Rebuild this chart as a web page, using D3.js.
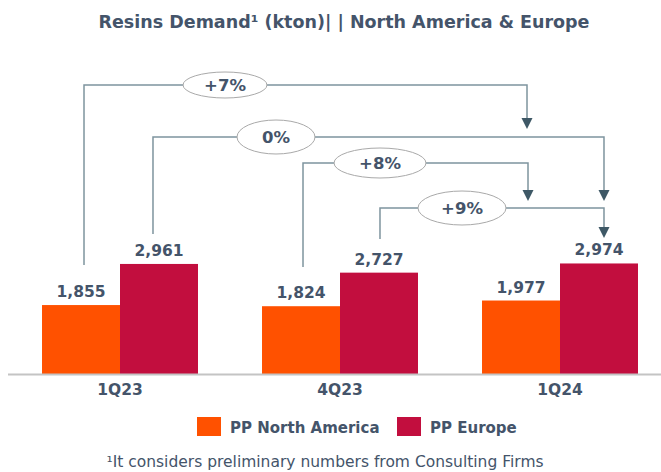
<!DOCTYPE html>
<html>
<head>
<meta charset="utf-8">
<script src="https://cdn.jsdelivr.net/npm/d3@7"></script>
<style>
  body { margin: 0; background: #fff; }
  svg { display: block; font-family: "DejaVu Sans", Verdana, sans-serif; }
</style>
</head>
<body>
<svg width="661" height="472"></svg>
<script>
// data
let quarters = ["1Q23", "4Q23", "1Q24"];
let seriesNames = ["PP North America", "PP Europe"];
let naValues = [1855, 1824, 1977];
let euValues = [2961, 2727, 2974];
let changeLabels = ["+7%", "0%", "+8%", "+9%"];
let changeFrom = [["1Q23", 0], ["1Q23", 1], ["4Q23", 0], ["4Q23", 1]];
let changeTo = [["1Q24", 0], ["1Q24", 1], ["1Q24", 0], ["1Q24", 1]];

// layout of the change annotations (pixels)
let connectorLayout = [
  { level: 85,  fromDx: 3,  fromEnd: 265, toDx: 6, tipY: 129, cx: 225, rx: 42, ry: 13 },
  { level: 137, fromDx: -6, fromEnd: 234, toDx: 5, tipY: 201, cx: 276, rx: 39, ry: 17 },
  { level: 163, fromDx: 2,  fromEnd: 267, toDx: 7, tipY: 201, cx: 380, rx: 46, ry: 15 },
  { level: 208, fromDx: 1,  fromEnd: 239, toDx: 5, tipY: 238, cx: 462, rx: 44, ry: 17 }
];

let colors = ["#ff5100", "#c20e3e"];
let textColor = "#44546a";
let lineColor = "#7e949e";

let svg = d3.select("svg");

let x = d3.scaleBand()
  .domain(quarters)
  .range([10, 670])
  .paddingInner(0.291)
  .paddingOuter(0.1455);

let x1 = d3.scaleBand()
  .domain([0, 1])
  .range([0, x.bandwidth()]);

let y = d3.scaleLinear()
  .domain([0, 3000])
  .range([374, 262.5]);

let values = [naValues, euValues];
let barData = [];
quarters.forEach(function (q, i) {
  values.forEach(function (vals, s) {
    barData.push({ q: q, s: s, v: vals[i] });
  });
});

function barCenter(q, s) {
  return x(q) + x1(s) + x1.bandwidth() / 2;
}

// title
let title = svg.append("text")
  .attr("x", 344)
  .attr("y", 28)
  .attr("text-anchor", "middle")
  .attr("fill", textColor)
  .attr("font-weight", "bold")
  .attr("font-size", 17.5);
title.append("tspan").text("Resins Demand");
title.append("tspan").text("¹");
title.append("tspan").text(" (kton)| | North America & Europe");

// bars
svg.append("g")
  .selectAll("rect")
  .data(barData)
  .join("rect")
  .attr("x", function (d) { return x(d.q) + x1(d.s); })
  .attr("y", function (d) { return y(d.v); })
  .attr("width", x1.bandwidth())
  .attr("height", function (d) { return y(0) - y(d.v); })
  .attr("fill", function (d) { return colors[d.s]; });

// value labels
svg.append("g")
  .selectAll("text")
  .data(barData)
  .join("text")
  .attr("x", function (d) { return barCenter(d.q, d.s); })
  .attr("y", function (d) { return y(d.v) - 8; })
  .attr("text-anchor", "middle")
  .attr("fill", textColor)
  .attr("font-weight", "bold")
  .attr("font-size", 15.5)
  .text(function (d) { return d3.format(",")(d.v); });

// baseline
svg.append("line")
  .attr("x1", 8).attr("x2", 661)
  .attr("y1", y(0) + 0.5).attr("y2", y(0) + 0.5)
  .attr("stroke", "#c4c4c4")
  .attr("stroke-width", 2);

// category axis labels
let xAxis = d3.axisBottom(x).tickSize(0).tickPadding(9);
let gx = svg.append("g")
  .attr("transform", "translate(0," + (y(0) + 1) + ")")
  .call(xAxis);
gx.select(".domain").remove();
gx.selectAll("text")
  .attr("fill", textColor)
  .attr("font-weight", "bold")
  .attr("font-size", 15.5)
  .attr("font-family", "DejaVu Sans, Verdana, sans-serif");

// change connectors
let conn = svg.append("g");
changeLabels.forEach(function (label, i) {
  let L = connectorLayout[i];
  let fx = barCenter(changeFrom[i][0], changeFrom[i][1]) + L.fromDx;
  let tx = barCenter(changeTo[i][0], changeTo[i][1]) + L.toDx;
  let path = d3.path();
  path.moveTo(fx, L.fromEnd);
  path.lineTo(fx, L.level);
  path.lineTo(tx, L.level);
  path.lineTo(tx, L.tipY - 10);
  conn.append("path")
    .attr("d", path.toString())
    .attr("fill", "none")
    .attr("stroke", lineColor)
    .attr("stroke-width", 1.5);
  conn.append("path")
    .attr("d", "M" + (tx - 5.5) + "," + (L.tipY - 11) + "L" + (tx + 5.5) + "," + (L.tipY - 11) + "L" + tx + "," + L.tipY + "Z")
    .attr("fill", "#3e5866");
  conn.append("ellipse")
    .attr("cx", L.cx)
    .attr("cy", L.level)
    .attr("rx", L.rx)
    .attr("ry", L.ry)
    .attr("fill", "#fff")
    .attr("stroke", "#a9a9a9")
    .attr("stroke-width", 1);
  conn.append("text")
    .attr("x", L.cx)
    .attr("y", L.level + 6)
    .attr("text-anchor", "middle")
    .attr("fill", textColor)
    .attr("font-weight", "bold")
    .attr("font-size", 16.5)
    .text(label);
});

// legend
let legendX = [197, 397];
let legend = svg.append("g")
  .selectAll("g")
  .data(seriesNames)
  .join("g")
  .attr("transform", function (d, i) { return "translate(" + legendX[i] + ",417)"; });
legend.append("rect")
  .attr("width", 24)
  .attr("height", 19)
  .attr("fill", function (d, i) { return colors[i]; });
legend.append("text")
  .attr("x", 33)
  .attr("y", 16)
  .attr("fill", textColor)
  .attr("font-weight", "bold")
  .attr("font-size", 15)
  .text(function (d) { return d; });

// footnote
svg.append("text")
  .attr("x", 325)
  .attr("y", 467)
  .attr("text-anchor", "middle")
  .attr("fill", textColor)
  .attr("font-size", 15.5)
  .text("¹It considers preliminary numbers from Consulting Firms");
</script>
</body>
</html>
